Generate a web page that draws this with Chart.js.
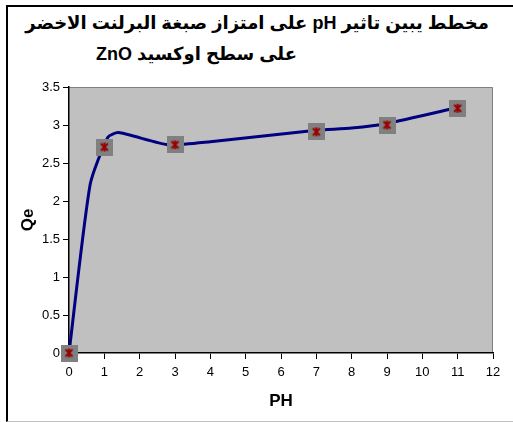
<!DOCTYPE html>
<html>
<head>
<meta charset="utf-8">
<script src="https://cdn.jsdelivr.net/npm/chart.js@4.4.1/dist/chart.umd.min.js"></script>
<style>
  body { margin: 0; background: #fff; overflow: hidden; }
  #frame { position: absolute; left: 6px; top: 5px; width: 600px; height: 414px;
           border-left: 2px solid #000; border-top: 2px solid #000; border-bottom: 1px solid #c0c0c0; }
  .title { position: absolute; font: bold 18px Arial, "Liberation Sans", "DejaVu Sans", sans-serif;
           direction: rtl; white-space: nowrap; color: #000; }
  #t1 { left: 0; width: 514px; text-align: center; top: 12px; }
  #t2 { right: 216px; top: 43px; }
  #chart { position: absolute; left: 0; top: 0; }
</style>
</head>
<body>
<div id="frame"></div>
<div class="title" id="t1">مخطط يبين تاثير pH على امتزاز صبغة البرلنت الاخضر</div>
<div class="title" id="t2">على سطح اوكسيد ZnO</div>
<canvas id="chart" width="513" height="422"></canvas>
<script>
// puntos medidos (marcadores)
const phValues = [0, 1, 3, 7, 9, 11];
const qeValues = [0, 2.71, 2.74, 2.91, 3.0, 3.22];

// linea suavizada
const linePh = [0, 0.6, 1.1, 1.4, 2.8, 4, 7, 8, 9, 11];
const lineQe = [0, 2.22, 2.84, 2.9, 2.74, 2.78, 2.93, 2.96, 3.02, 3.23];

const xTitle = 'PH';
const yTitle = 'Qe';

// marcador: cuadro gris con asterisco rojo
const markerSize = 17;
const marker = document.createElement('canvas');
marker.width = markerSize;
marker.height = markerSize;
const mctx = marker.getContext('2d');
mctx.fillStyle = '#808080';
mctx.fillRect(0, 0, markerSize, markerSize);
mctx.strokeStyle = '#990000';
mctx.lineWidth = 2;
mctx.beginPath();
mctx.moveTo(5, 5); mctx.lineTo(12, 12);
mctx.moveTo(12, 5); mctx.lineTo(5, 12);
mctx.moveTo(8.5, 4); mctx.lineTo(8.5, 13);
mctx.stroke();

const plotBg = {
  id: 'plotBg',
  beforeDraw(chart) {
    const { ctx, chartArea: a } = chart;
    ctx.save();
    ctx.fillStyle = '#c0c0c0';
    ctx.fillRect(a.left, a.top, a.right - a.left, a.bottom - a.top);
    ctx.strokeStyle = '#808080';
    ctx.lineWidth = 1;
    ctx.beginPath();
    ctx.moveTo(a.left, a.top + 0.5);
    ctx.lineTo(a.right - 0.5, a.top + 0.5);
    ctx.lineTo(a.right - 0.5, a.bottom);
    ctx.stroke();
    ctx.restore();
  }
};

const ctx = document.getElementById('chart').getContext('2d');
new Chart(ctx, {
  type: 'scatter',
  data: {
    datasets: [{
      data: phValues.map((x, i) => ({ x: x, y: qeValues[i] })),
      pointStyle: marker,
      showLine: false,
      clip: false
    }, {
      data: linePh.map((x, i) => ({ x: x, y: lineQe[i] })),
      showLine: true,
      borderColor: '#000080',
      borderWidth: 3,
      tension: 0.2,
      pointRadius: 0,
      clip: false
    }]
  },
  plugins: [plotBg],
  options: {
    responsive: false,
    animation: false,
    layout: { padding: { top: 87, right: 20, left: 0, bottom: 0 } },
    plugins: { legend: { display: false }, tooltip: { enabled: false } },
    scales: {
      x: {
        type: 'linear', min: 0, max: 12,
        afterFit: s => { s.height = 69; },
        ticks: { stepSize: 1, color: '#000', padding: 6, font: { family: 'Arial', size: 13 } },
        grid: { drawOnChartArea: false, drawTicks: true, tickLength: 6, color: '#000' },
        border: { color: '#000', width: 1.5 },
        title: { display: true, text: xTitle, color: '#000', padding: { bottom: 10 },
                 font: { family: 'Arial', size: 17, weight: 'bold' } }
      },
      y: {
        type: 'linear', min: 0, max: 3.5,
        afterFit: s => { s.width = 69; },
        ticks: { stepSize: 0.5, color: '#000', padding: 3, font: { family: 'Arial', size: 13 },
                 callback: v => String(v) },
        grid: { drawOnChartArea: false, drawTicks: true, tickLength: 6, color: '#000' },
        border: { color: '#000', width: 1.5 },
        title: { display: true, text: yTitle, color: '#000', padding: { top: 18 },
                 font: { family: 'Arial', size: 17, weight: 'bold' } }
      }
    }
  }
});
</script>
</body>
</html>
